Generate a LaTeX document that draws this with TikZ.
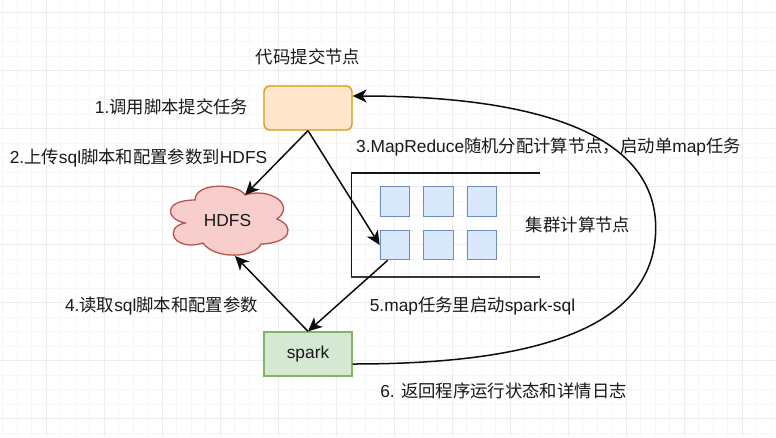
\documentclass[tikz,border=0pt]{standalone}
\usepackage{fontspec}
\setmainfont{Liberation Sans}
\newfontfamily\cjkfont{Noto Sans CJK SC}
\newcommand{\zh}[1]{{\cjkfont #1}}
\usetikzlibrary{arrows.meta}
\definecolor{gridminor}{HTML}{F6F6F6}
\definecolor{gridmajor}{HTML}{EDEDED}
\definecolor{orangefill}{HTML}{FFE6CC}
\definecolor{orangeline}{HTML}{D79B00}
\definecolor{redfill}{HTML}{F8CECC}
\definecolor{redline}{HTML}{B85450}
\definecolor{bluefill}{HTML}{DAE8FC}
\definecolor{blueline}{HTML}{6C8EBF}
\definecolor{greenfill}{HTML}{D5E8D4}
\definecolor{greenline}{HTML}{82B366}
\tikzset{
  label text/.style={inner sep=0pt,text=black!90,font=\fontsize{17.35}{20}\selectfont},
  link/.style={draw=black!95,line width=1.5pt,-{Stealth[length=14pt,width=13pt,inset=4pt]}},
  cell/.style={draw=blueline,fill=bluefill,line width=1.2pt,minimum width=29.5pt,minimum height=29.5pt,inner sep=0pt},
  holder/.style={draw=black!92,line width=1.3pt},
}
\begin{document}
\begin{tikzpicture}[x=1pt,y=-1pt]
\useasboundingbox (0,0) rectangle (776,437);
\fill[white] (0,0) rectangle (776,437);
% grid
\foreach \i in {0,...,54} {
  \draw[gridminor,line width=0.8pt] ({2.5+14.5*\i},0) -- ({2.5+14.5*\i},437);
}
\foreach \i in {0,...,30} {
  \draw[gridminor,line width=0.8pt] (0,{12.5+14.5*(\i-1)}) -- (776,{12.5+14.5*(\i-1)});
}
\foreach \i in {0,...,13} {
  \draw[gridmajor,line width=1pt] ({46.3+58*\i},0) -- ({46.3+58*\i},437);
}
\foreach \i in {0,...,7} {
  \draw[gridmajor,line width=1pt] (0,{12.5+58*\i}) -- (776,{12.5+58*\i});
}
% cloud
\draw[fill=redfill,draw=redline,line width=1.3pt]
  (185,223) .. controls (165,219) and (163,200) .. (195,200)
  .. controls (195,182) and (238,183) .. (245,195)
  .. controls (270,187) and (296,205) .. (277,219)
  .. controls (295,226) and (292,243) .. (261,244)
  .. controls (255,258) and (215,260) .. (203,243)
  .. controls (175,252) and (162,228) .. (185,223) -- cycle;
\node[label text] (hdfs) at (227.5,221) {HDFS};
\coordinate (cloudtop) at (245,195);
\coordinate (cloudbottom) at (235,256);
% boxes
\node[draw=orangeline,fill=orangefill,line width=1.3pt,rounded corners=6pt,minimum width=88pt,minimum height=44pt,inner sep=0pt] (submit) at (308,108) {};
\node[draw=greenline,fill=greenfill,line width=1.3pt,minimum width=88pt,minimum height=44pt,inner sep=0pt,label text,text=black!90] (spark) at (308,354) {spark};
% holder bracket
\coordinate (ht) at (540,173);
\coordinate (hb) at (540,277);
\draw[holder] (ht) -- (351.4,173) -- (351.4,277);
\draw[draw=black!78,line width=2pt] (350.7,277) -- (hb);
% cells
\foreach \n/\cx/\cy in {a/395/201.5,b/438.5/201.5,c/482/201.5,d/395/245,e/438.5/245,f/482/245} {
  \node[cell] (cell\n) at (\cx,\cy) {};
}
% connectors
\draw[link] (submit.south) -- (cloudtop);
\draw[link] (submit.south) -- (celld.west);
\draw[link] ([xshift=8pt]celld.south west) -- (spark.north);
\draw[link] (spark.north) -- (cloudbottom);
\draw[link] ([yshift=-10pt]spark.east) .. controls (505,364) and (655.7,340) .. (655.7,228)
  .. controls (655.7,120) and (500,96) .. ([yshift=12pt]submit.east);
% labels
\node[label text] (t0) at (308,57) {\zh{代码提交节点}};
\node[label text] (t1) at (171.5,107) {1.\zh{调用脚本提交任务}};
\node[label text] (t2) at (138.5,158) {2.\zh{上传}sql\zh{脚本和配置参数到}HDFS};
\node[label text] (t3) at (548.5,147) {3.MapReduce\zh{随机分配计算节点，启动单}map\zh{任务}};
\node[label text] (t4) at (578,225) {\zh{集群计算节点}};
\node[label text] (t5) at (161.5,306) {4.\zh{读取}sql\zh{脚本和配置参数}};
\node[label text] (t6) at (472.5,306) {5.map\zh{任务里启动}spark-sql};
\node[label text] (t7) at (503.5,391) {6. \zh{返回程序运行状态和详情日志}};
\end{tikzpicture}
\end{document}
